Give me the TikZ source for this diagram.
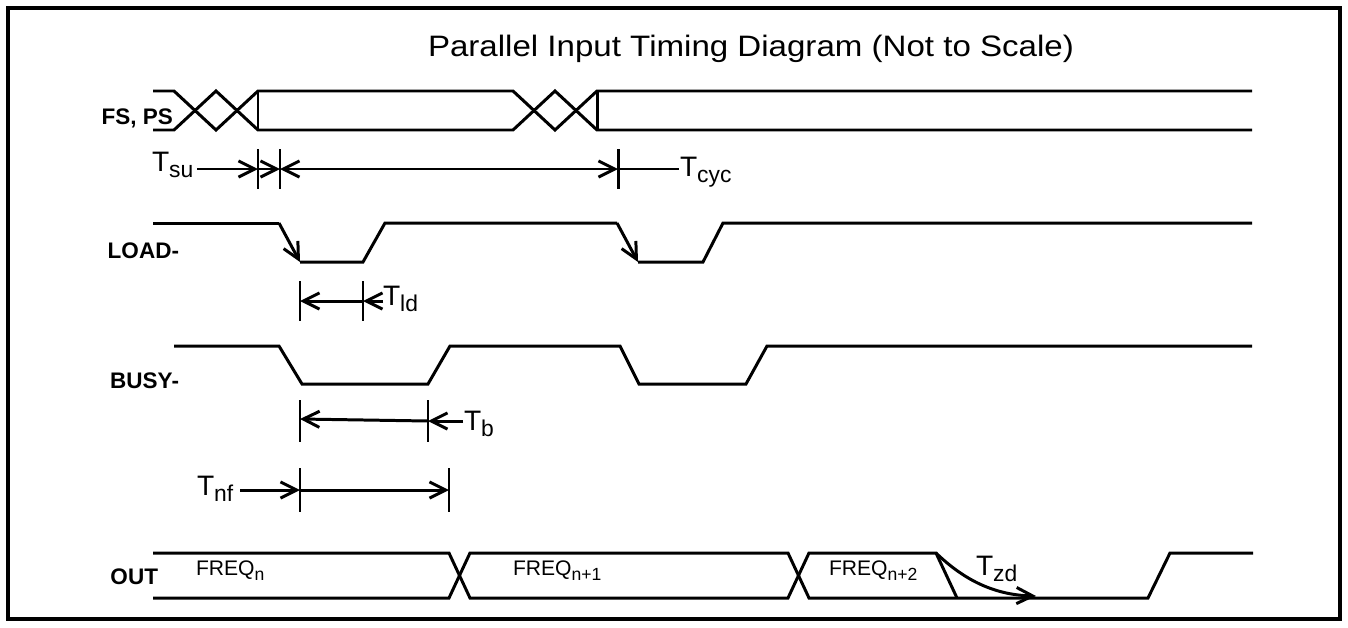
\documentclass[tikz,border=0pt]{standalone}
\usepackage{fontspec}
\usepackage{graphicx}
\setmainfont{Liberation Sans}
\usetikzlibrary{arrows.meta}
\newcommand{\tlab}[1]{{\fontsize{8}{9}\selectfont T\raisebox{-1.8pt}{\fontsize{6.5}{7}\selectfont #1}}}
\newcommand{\freqlab}[1]{{\fontsize{6}{7}\selectfont FREQ\raisebox{-1.6pt}{\fontsize{5}{6}\selectfont #1}}}
\newcommand{\siglab}[1]{{\fontsize{6.4}{7}\selectfont\bfseries #1}}
\tikzset{
  sig/.style={line width=0.85pt},
  arr/.style={line width=0.85pt,-{Straight Barb[length=4.6pt,width=4.6pt]}},
  arrb/.style={line width=0.85pt,{Straight Barb[length=4.6pt,width=4.6pt]}-{Straight Barb[length=4.6pt,width=4.6pt]}},
  tickline/.style={line width=0.85pt},
  txt/.style={inner sep=0pt, outer sep=0pt, anchor=base west},
  txte/.style={inner sep=0pt, outer sep=0pt, anchor=base east},
}
\begin{document}
\begin{tikzpicture}[x=0.01cm, y=-0.01cm]
\useasboundingbox (0,0) rectangle (1348,627);
\draw[line width=1pt] (8,8) rectangle (1340,619);

% title
\node[inner sep=0pt, anchor=base] (title) at (751,56) {\scalebox{1.12}[1]{\fontsize{8.4}{10}\selectfont Parallel Input Timing Diagram (Not to Scale)}};

% signal labels
\node[txte] (lfs) at (173,124) {\siglab{FS, PS}};
\node[txte] (lload) at (179,258) {\siglab{LOAD-}};
\node[txte] (lbusy) at (179,388) {\siglab{BUSY-}};
\node[txte] (lout) at (158,584) {\siglab{OUT}};

% FS, PS waveform
\draw[sig] (153,91) -- (174,91) -- (216,130) -- (258,91) -- (513,91) -- (555,130) -- (597,91) -- (1252,91);
\draw[sig] (153,130) -- (174,130) -- (216,91) -- (258,130) -- (513,130) -- (555,91) -- (597,130) -- (1252,130);
\draw[sig] (258,91) -- (258,130);
\draw[sig] (597,91) -- (597,130);

% Tsu / Tcyc
\coordinate (a0t) at (258,149); \coordinate (a0b) at (258,189);
\coordinate (a1t) at (280,149); \coordinate (a1b) at (280,189);
\coordinate (a2t) at (618,149); \coordinate (a2b) at (618,189);
\coordinate (a00) at (197,169);
\coordinate (a0) at (258,169);
\coordinate (a1) at (280,169);
\coordinate (a2) at (618,169);
\coordinate (a3) at (679,169);
\draw[tickline] (a0t) -- (a0b);
\draw[tickline] (a1t) -- (a1b);
\draw[tickline] (a2t) -- (a2b);
\node[txt] (tsu) at (152,171) {\tlab{su}};
\draw[arr] (a00) -- (a0);
\draw[arr] (a0) -- (a1);
\draw[arrb] (a1) -- (a2);
\draw[sig] (a2) -- (a3);
\node[txt] (tcyc) at (680,176) {\tlab{cyc}};

% LOAD-
\draw[sig] (153,223) -- (279,223);
\draw[arr] (279,223) -- (300,262);
\draw[sig] (300,262) -- (363,262) -- (385,223) -- (617,223);
\draw[arr] (617,223) -- (638,262);
\draw[sig] (638,262) -- (703,262) -- (723,223) -- (1252,223);

% Tld
\coordinate (b0t) at (300,281); \coordinate (b0b) at (300,321);
\coordinate (b1t) at (363,281); \coordinate (b1b) at (363,321);
\coordinate (b0) at (300,301); \coordinate (b1) at (363,301); \coordinate (b2) at (383,301);
\draw[tickline] (b0t) -- (b0b);
\draw[tickline] (b1t) -- (b1b);
\draw[arr] (b1) -- (b0);
\draw[arr] (b2) -- (b1);
\node[txt] (tld) at (383,305) {\tlab{ld}};

% BUSY-
\draw[sig] (174,346) -- (279,346) -- (302,384) -- (428,384) -- (450,346) -- (620,346) -- (639,384) -- (746,384) -- (767,346) -- (1252,346);

% Tb
\coordinate (c0t) at (300,400); \coordinate (c0b) at (300,442);
\coordinate (c1t) at (428,400); \coordinate (c1b) at (428,442);
\coordinate (c0) at (300,419); \coordinate (c1) at (428,421); \coordinate (c2) at (463,421);
\draw[tickline] (c0t) -- (c0b);
\draw[tickline] (c1t) -- (c1b);
\draw[arr] (c1) -- (c0);
\draw[arr] (c2) -- (c1);
\node[txt] (tb) at (464,430) {\tlab{b}};

% Tnf
\coordinate (d0t) at (300,468); \coordinate (d0b) at (300,512);
\coordinate (d1t) at (449,468); \coordinate (d1b) at (449,512);
\coordinate (dm) at (240,490); \coordinate (d0) at (300,490); \coordinate (d1) at (449,490);
\draw[tickline] (d0t) -- (d0b);
\draw[tickline] (d1t) -- (d1b);
\node[txt] (tnf) at (197,495) {\tlab{nf}};
\draw[arr] (dm) -- (d0);
\draw[arr] (d0) -- (d1);

% OUT
\draw[sig] (153,553) -- (449,553) -- (470,598) -- (788,598) -- (809,553) -- (936,553) -- (957,598);
\draw[sig] (153,598) -- (449,598) -- (470,553) -- (788,553) -- (809,598) -- (1148,598) -- (1170,553) -- (1253,553);
\node[txt] (f0) at (196,575) {\freqlab{n}};
\node[txt] (f1) at (513,575) {\freqlab{n+1}};
\node[txt] (f2) at (829,575) {\freqlab{n+2}};

% Tzd
\coordinate (z0) at (936,553);
\coordinate (z1) at (1036,596);
\draw[arr] (z0) .. controls (962,578) and (992,595) .. (z1);
\node[txt] (tzd) at (976,575) {\tlab{zd}};
\end{tikzpicture}
\end{document}
